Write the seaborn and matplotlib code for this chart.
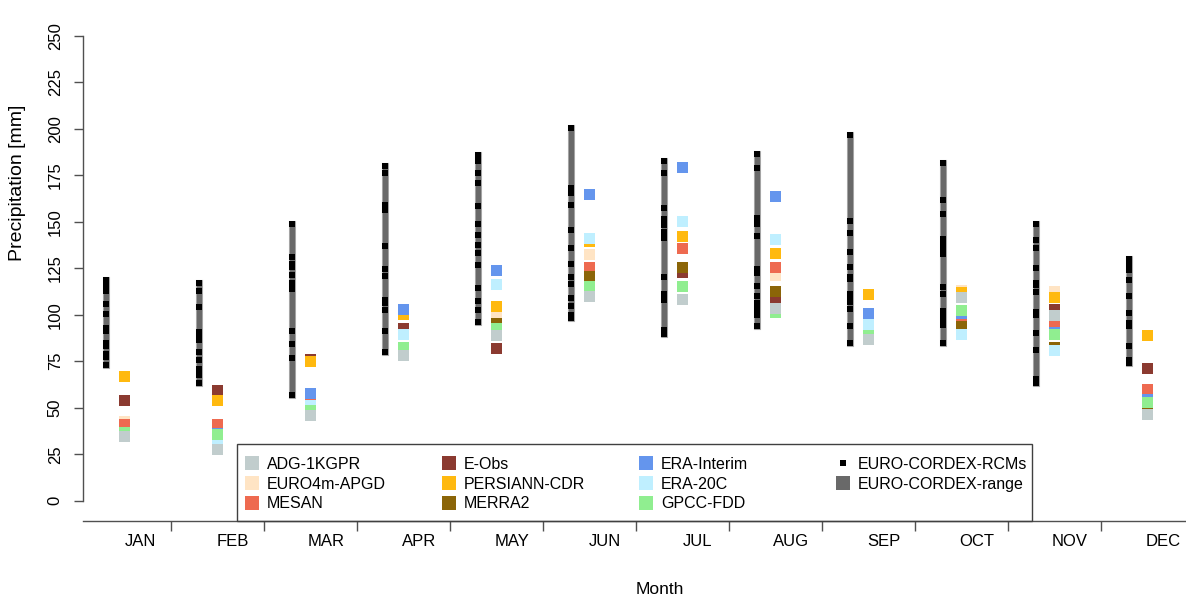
import numpy as np
import pandas as pd
import matplotlib
matplotlib.use('Agg')
import matplotlib.pyplot as plt
import seaborn as sns
from matplotlib.lines import Line2D
from matplotlib.patches import Rectangle

# ---------------- data ----------------
months = ['JAN', 'FEB', 'MAR', 'APR', 'MAY', 'JUN', 'JUL', 'AUG', 'SEP', 'OCT', 'NOV', 'DEC']

# EURO-CORDEX individual RCM values (mm)
rcm_jan = [118.8, 115.5, 112.6, 105.8, 100.5, 92.6, 91.0, 84.8, 83.2, 79.1, 77.0, 73.0]
rcm_feb = [116.8, 112.6, 104.1, 90.8, 88.5, 86.2, 80.0, 75.6, 70.8, 67.7, 63.5]
rcm_mar = [148.8, 131.0, 127.5, 125.6, 121.3, 117.2, 113.7, 91.0, 84.5, 76.7, 56.7]
rcm_apr = [180.0, 176.2, 159.2, 156.1, 136.9, 124.5, 120.6, 107.9, 106.3, 102.4, 91.1, 79.8]
rcm_may = [185.8, 182.5, 176.3, 170.9, 158.4, 148.8, 143.0, 137.6, 133.0, 126.8, 114.5, 107.4, 102.3, 96.2]
rcm_jun = [200.5, 168.1, 165.5, 158.8, 145.6, 135.9, 127.5, 120.3, 116.5, 109.2, 104.8, 100.1, 98.2]
rcm_jul = [182.7, 176.2, 157.6, 151.5, 148.1, 144.6, 141.2, 120.5, 111.1, 107.9, 91.9, 89.4]
rcm_aug = [186.6, 178.9, 152.1, 148.8, 142.3, 124.7, 122.3, 115.4, 109.8, 106.4, 104.9, 101.7, 100.1, 93.7]
rcm_sep = [196.8, 150.4, 143.9, 133.7, 125.6, 120.5, 119.4, 111.4, 109.0, 106.6, 103.1, 94.2, 84.8]
rcm_oct = [181.8, 161.5, 154.3, 140.9, 137.6, 136.1, 132.5, 115.1, 111.3, 102.2, 100.9, 97.8, 94.4, 84.9]
rcm_nov = [148.9, 140.2, 135.9, 125.1, 117.3, 116.0, 112.2, 101.2, 99.6, 90.2, 81.0, 65.2, 63.5]
rcm_dec = [129.7, 126.6, 123.8, 118.8, 110.3, 100.9, 95.3, 93.7, 83.2, 75.6, 74.0]
rcm_all = [rcm_jan, rcm_feb, rcm_mar, rcm_apr, rcm_may, rcm_jun,
           rcm_jul, rcm_aug, rcm_sep, rcm_oct, rcm_nov, rcm_dec]

# reference datasets (mm), JAN..DEC
euro4m_apgd = [42.6, 40.0, 50.0, 91.0, 100.5, 132.4, 124.0, 121.1, 95.0, 113.0, 112.5, 55.0]
e_obs       = [53.9, 59.2, 75.9, 92.6, 81.8, 120.0, 122.7, 109.2, 97.0, 110.0, 102.8, 71.1]
mesan       = [41.0, 41.0, 55.2, 80.5, 91.0, 125.4, 135.6, 125.4, 90.0, 97.2, 93.7, 59.8]
persiann    = [66.8, 54.0, 74.8, 100.1, 104.4, 139.4, 142.0, 132.9, 111.0, 111.9, 109.2, 88.9]
era_interim = [35.8, 36.1, 57.6, 102.8, 123.8, 164.6, 179.1, 163.8, 100.5, 100.6, 90.4, 54.4]
merra2      = [35.5, 32.0, 48.0, 80.0, 95.3, 120.5, 125.4, 112.5, 92.0, 93.7, 82.4, 52.1]
era_20c     = [35.2, 31.6, 51.2, 89.4, 116.2, 141.0, 150.1, 140.4, 94.9, 89.4, 80.8, 52.9]
gpcc_fdd    = [36.7, 35.6, 48.5, 82.4, 92.6, 115.2, 115.2, 101.2, 88.9, 102.3, 89.4, 52.8]
adg_1kgpr   = [34.5, 27.5, 45.8, 78.1, 88.8, 109.8, 108.2, 103.1, 86.7, 109.2, 99.6, 46.2]

# ---------------- styles ----------------
colors = {
    'ADG-1KGPR': '#C1CDCD',
    'EURO4m-APGD': '#FFE4C4',
    'MESAN': '#EE6A50',
    'E-Obs': '#8B3A30',
    'PERSIANN-CDR': '#FFB90F',
    'MERRA2': '#8B6508',
    'ERA-Interim': '#6495ED',
    'ERA-20C': '#BFEFFF',
    'GPCC-FDD': '#90EE90',
}
draw_order = [('EURO4m-APGD', euro4m_apgd), ('E-Obs', e_obs), ('MESAN', mesan),
              ('PERSIANN-CDR', persiann), ('ERA-Interim', era_interim),
              ('MERRA2', merra2), ('ERA-20C', era_20c), ('GPCC-FDD', gpcc_fdd),
              ('ADG-1KGPR', adg_1kgpr)]

sns.set_theme(style='ticks')
plt.rcParams['font.family'] = ['Liberation Sans', 'DejaVu Sans']
plt.rcParams['text.color'] = 'black'
plt.rcParams['xtick.color'] = '#505050'
plt.rcParams['ytick.color'] = '#505050'
plt.rcParams['xtick.labelcolor'] = 'black'
plt.rcParams['ytick.labelcolor'] = 'black'

W, H = 1186, 598
fig = plt.figure(figsize=(W / 100, H / 100), dpi=100)
ax = fig.add_axes([83 / W, (H - 521) / H, 1 - 83 / W, (521 - 17) / H])

mpos = np.arange(1, 13)
bar_off = -0.371
ref_off = -0.167
tick_off = 0.333

# range bars
for i, vals in enumerate(rcm_all):
    x = mpos[i] + bar_off
    ax.plot([x, x], [min(vals), max(vals)], color='#B4B4B4', lw=5.1,
            solid_capstyle='projecting', zorder=2)
    ax.plot([x, x], [min(vals), max(vals)], color='#696969', lw=3.9,
            solid_capstyle='projecting', zorder=3)

# RCM markers
rcm_df = pd.DataFrame({
    'x': np.concatenate([[mpos[i] + bar_off] * len(v) for i, v in enumerate(rcm_all)]),
    'value': np.concatenate(rcm_all),
})
sns.scatterplot(data=rcm_df, x='x', y='value', marker='s', color='black', s=15.5,
                linewidth=0, ax=ax, legend=False, zorder=4)

# reference datasets
ref_df = pd.concat([pd.DataFrame({'x': mpos + ref_off, 'value': vals, 'dataset': name})
                    for name, vals in draw_order], ignore_index=True)
sns.scatterplot(data=ref_df, x='x', y='value', hue='dataset', palette=colors,
                marker='s', s=62.7, linewidth=0, ax=ax, legend=False, zorder=5)

# axes
ax.set_xlim(0.387, 12.247)
ax.set_ylim(-10.9, 260.05)
ax.set_xlabel('')
ax.set_ylabel('')
for s in ['top', 'right']:
    ax.spines[s].set_visible(False)
for s in ['left', 'bottom']:
    ax.spines[s].set_color('#505050')
    ax.spines[s].set_linewidth(1.0)
ax.spines['left'].set_bounds(0, 250)

ax.set_yticks(np.arange(0, 251, 25))
ax.set_yticklabels([str(v) for v in range(0, 251, 25)], rotation=90, va='center')
ax.tick_params(axis='y', which='major', length=6.5, width=1, pad=8, labelsize=12)

ax.set_xticks(mpos[:-1] + tick_off)
ax.set_xticklabels([''] * 11)
ax.set_xticks(mpos, minor=True)
ax.set_xticklabels(months, minor=True)
ax.tick_params(axis='x', which='major', length=7.2, width=1, direction='out')
ax.tick_params(axis='x', which='minor', length=0, pad=9, labelsize=12)

fig.text(18 / W, 1 - 183 / H, 'Precipitation [mm]', rotation=90, ha='center', va='center', fontsize=14)
fig.text(660 / W, 1 - 590 / H, 'Month', ha='center', va='center', fontsize=12.5)

# legend
def sq(c, ms=10):
    return Line2D([], [], marker='s', color=c, markersize=ms, linestyle='none', markeredgewidth=0)

legend_cols = [
    [('ADG-1KGPR', sq(colors['ADG-1KGPR'])), ('EURO4m-APGD', sq(colors['EURO4m-APGD'])), ('MESAN', sq(colors['MESAN']))],
    [('E-Obs', sq(colors['E-Obs'])), ('PERSIANN-CDR', sq(colors['PERSIANN-CDR'])), ('MERRA2', sq(colors['MERRA2']))],
    [('ERA-Interim', sq(colors['ERA-Interim'])), ('ERA-20C', sq(colors['ERA-20C'])), ('GPCC-FDD', sq(colors['GPCC-FDD']))],
    [('EURO-CORDEX-RCMs', sq('black', 4.0)), ('EURO-CORDEX-range', sq('#696969'))],
]
col_centers = [252, 449, 646, 843]
for cx, items in zip(col_centers, legend_cols):
    fig.legend(handles=[h for _, h in items], labels=[l for l, _ in items],
               loc='upper left', bbox_to_anchor=((cx - 8) / W, 1 - 457 / H),
               bbox_transform=fig.transFigure, frameon=False, borderpad=0,
               borderaxespad=0, handlelength=1.0, handletextpad=0.44,
               labelspacing=0.29, fontsize=11.5, handleheight=0.7)
fig.add_artist(Rectangle((237 / W, (H - 521) / H), (1032 - 237) / W, (521 - 444) / H,
                         transform=fig.transFigure, fill=False, edgecolor='#404040', lw=1))

fig.savefig('out.png', dpi=100)
